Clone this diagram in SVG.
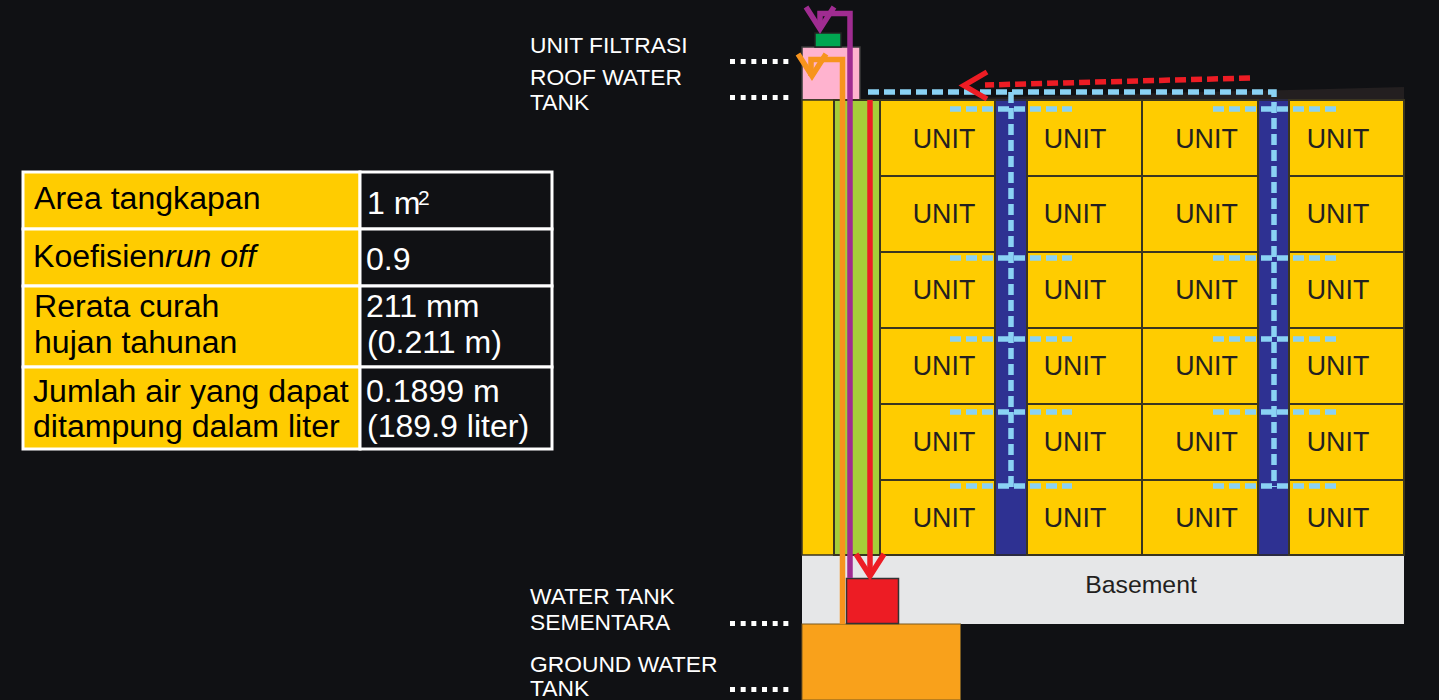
<svg xmlns="http://www.w3.org/2000/svg" width="1439" height="700" viewBox="0 0 1439 700">
<style>
text{font-family:"Liberation Sans",Arial,sans-serif}
.u rect{fill:#ffcc00;stroke:#3a3520;stroke-width:2}
.u text{font-size:26.8px;fill:#231f20;text-anchor:middle}
.n{fill:#2e3192;stroke:#2a2a40;stroke-width:2}
.lab{font-size:22.8px;fill:#fff}
.tb{font-size:32.1px;fill:#000}
.tw{font-size:32.1px;fill:#fff}
.cell{stroke:#fff;stroke-width:3}
.dots{fill:none;stroke:#fff;stroke-width:5;stroke-dasharray:5 5.67}
.bd{fill:none;stroke:#8ad2f4;stroke-width:5.500;stroke-dasharray:11 5}
.ln{fill:none;stroke-width:5.500}
</style>
<rect width="1439" height="700" fill="#101114"/>
<g id="table">
<rect class="cell" x="23" y="172" width="337" height="57" fill="#ffcc00"/>
<rect class="cell" x="23" y="229" width="337" height="57" fill="#ffcc00"/>
<rect class="cell" x="23" y="286" width="337" height="81" fill="#ffcc00"/>
<rect class="cell" x="23" y="367" width="337" height="82" fill="#ffcc00"/>
<rect class="cell" x="360" y="172" width="192" height="57" fill="#101114"/>
<rect class="cell" x="360" y="229" width="192" height="57" fill="#101114"/>
<rect class="cell" x="360" y="286" width="192" height="81" fill="#101114"/>
<rect class="cell" x="360" y="367" width="192" height="82" fill="#101114"/>
<text class="tb" x="34" y="209">Area tangkapan</text>
<text class="tb" x="33" y="267">Koefisien<tspan font-style="italic">run off</tspan></text>
<text class="tb" x="34" y="317">Rerata curah</text>
<text class="tb" x="34" y="353">hujan tahunan</text>
<text class="tb" x="33" y="402">Jumlah air yang dapat</text>
<text class="tb" x="33" y="437">ditampung dalam liter</text>
<text class="tw" x="367" y="214">1 m</text><text x="418" y="205" font-size="21" fill="#fff">2</text>
<text class="tw" x="366" y="270">0.9</text>
<text class="tw" x="366" y="317">211 mm</text>
<text class="tw" x="367" y="353">(0.211 m)</text>
<text class="tw" x="366" y="402">0.1899 m</text>
<text class="tw" x="367" y="437">(189.9 liter)</text>
</g>
<g id="roof"><polygon points="888,100 1404,87 1404,100" fill="#231f20"/></g>
<g id="roof-water-tank"><rect x="802" y="47" width="58" height="53" fill="#ffb3cf" stroke="#3a3a3a" stroke-width="1.500"/></g>
<g id="unit-filtrasi"><rect x="815" y="33" width="26" height="14" fill="#00a651" stroke="#222" stroke-width="1.500"/></g>
<g id="basement"><rect x="802" y="555" width="602" height="69" fill="#e6e7e8"/><text x="1141" y="593" font-size="24.800" fill="#231f20" text-anchor="middle">Basement</text></g>
<g id="core"><rect x="802" y="100" width="32" height="455" fill="#ffcc00" stroke="#3a3520" stroke-width="1.500"/><rect x="834" y="100" width="46" height="455" fill="#a6ce39" stroke="#3a3520" stroke-width="2"/></g>
<g id="shaft-1"><rect class="n" x="995" y="100" width="32" height="455"/></g>
<g id="shaft-2"><rect class="n" x="1258" y="100" width="31" height="455"/></g>
<g id="u11" class="u"><rect x="880" y="100" width="115" height="76"/><text x="944" y="147.500">UNIT</text></g>
<g id="u12" class="u"><rect x="1027" y="100" width="115" height="76"/><text x="1075" y="147.500">UNIT</text></g>
<g id="u13" class="u"><rect x="1142" y="100" width="116" height="76"/><text x="1206.500" y="147.500">UNIT</text></g>
<g id="u14" class="u"><rect x="1289" y="100" width="115" height="76"/><text x="1338" y="147.500">UNIT</text></g>
<g id="u21" class="u"><rect x="880" y="176" width="115" height="76"/><text x="944" y="223">UNIT</text></g>
<g id="u22" class="u"><rect x="1027" y="176" width="115" height="76"/><text x="1075" y="223">UNIT</text></g>
<g id="u23" class="u"><rect x="1142" y="176" width="116" height="76"/><text x="1206.500" y="223">UNIT</text></g>
<g id="u24" class="u"><rect x="1289" y="176" width="115" height="76"/><text x="1338" y="223">UNIT</text></g>
<g id="u31" class="u"><rect x="880" y="252" width="115" height="76"/><text x="944" y="299">UNIT</text></g>
<g id="u32" class="u"><rect x="1027" y="252" width="115" height="76"/><text x="1075" y="299">UNIT</text></g>
<g id="u33" class="u"><rect x="1142" y="252" width="116" height="76"/><text x="1206.500" y="299">UNIT</text></g>
<g id="u34" class="u"><rect x="1289" y="252" width="115" height="76"/><text x="1338" y="299">UNIT</text></g>
<g id="u41" class="u"><rect x="880" y="328" width="115" height="76"/><text x="944" y="375">UNIT</text></g>
<g id="u42" class="u"><rect x="1027" y="328" width="115" height="76"/><text x="1075" y="375">UNIT</text></g>
<g id="u43" class="u"><rect x="1142" y="328" width="116" height="76"/><text x="1206.500" y="375">UNIT</text></g>
<g id="u44" class="u"><rect x="1289" y="328" width="115" height="76"/><text x="1338" y="375">UNIT</text></g>
<g id="u51" class="u"><rect x="880" y="404" width="115" height="76"/><text x="944" y="451">UNIT</text></g>
<g id="u52" class="u"><rect x="1027" y="404" width="115" height="76"/><text x="1075" y="451">UNIT</text></g>
<g id="u53" class="u"><rect x="1142" y="404" width="116" height="76"/><text x="1206.500" y="451">UNIT</text></g>
<g id="u54" class="u"><rect x="1289" y="404" width="115" height="76"/><text x="1338" y="451">UNIT</text></g>
<g id="u61" class="u"><rect x="880" y="480" width="115" height="75"/><text x="944" y="527">UNIT</text></g>
<g id="u62" class="u"><rect x="1027" y="480" width="115" height="75"/><text x="1075" y="527">UNIT</text></g>
<g id="u63" class="u"><rect x="1142" y="480" width="116" height="75"/><text x="1206.500" y="527">UNIT</text></g>
<g id="u64" class="u"><rect x="1289" y="480" width="115" height="75"/><text x="1338" y="527">UNIT</text></g>
<g id="ground-water-tank"><rect x="802" y="624" width="158.500" height="76" fill="#f9a11b" stroke="#7a5a20" stroke-width="1"/></g>
<g id="water-tank-sementara"><rect x="846.500" y="578.500" width="52" height="45" fill="#ed1c24" stroke="#333" stroke-width="1.500"/></g>
<g id="connectors">
<path class="bd" d="M868 92H1274V487"/>
<path class="bd" d="M1011 92V487"/>
<path class="bd" d="M950 109H1072M950 258H1072M950 339H1072M950 412H1072M950 486H1072M1213 109H1336M1213 258H1336M1213 339H1336M1213 412H1336M1213 486H1336"/>
<path class="ln" stroke="#f7941d" d="M842.500 624V59.500H811V76"/>
<path class="ln" stroke="#f7941d" d="M798 54L812 76L826 54"/>
<path class="ln" stroke="#a02c91" d="M850 578V13.500H820V29"/>
<path class="ln" stroke="#a02c91" d="M806 7L820 29L834 7"/>
<path class="ln" stroke="#ed1c24" d="M870 100V576"/>
<path class="ln" stroke="#ed1c24" d="M856 554L870 576L884 554"/>
<path class="ln" stroke="#ed1c24" stroke-dasharray="11 5" d="M1250 78L985 85"/>
<path class="ln" stroke="#ed1c24" d="M987 72L964 85.500L987 99"/>
</g>
<g id="labels">
<path class="dots" d="M730 61.500H790M730 97.500H790M730 623.500H790M730 689.500H790"/>
<text class="lab" x="530" y="53">UNIT FILTRASI</text>
<text class="lab" x="530" y="85">ROOF WATER</text>
<text class="lab" x="530" y="110">TANK</text>
<text class="lab" x="530" y="604">WATER TANK</text>
<text class="lab" x="530" y="630">SEMENTARA</text>
<text class="lab" x="530" y="672">GROUND WATER</text>
<text class="lab" x="530" y="696">TANK</text>
</g>
</svg>
